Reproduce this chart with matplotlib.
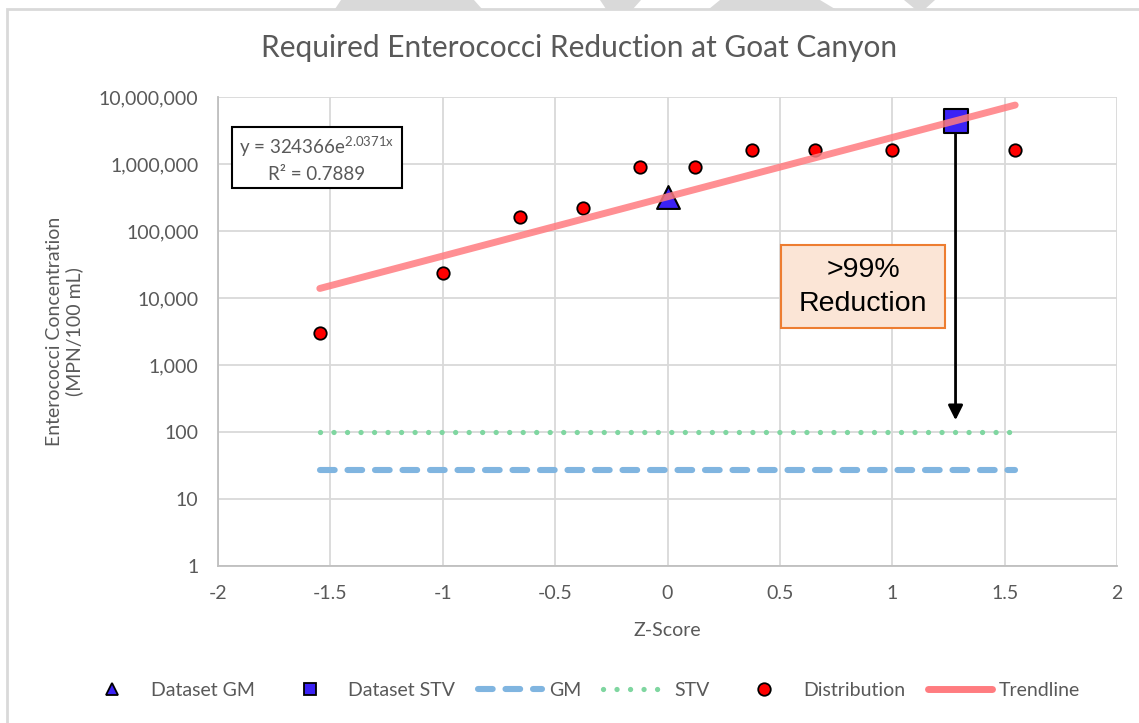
import numpy as np
import matplotlib
matplotlib.use("Agg")
import matplotlib.pyplot as plt
from matplotlib.lines import Line2D
from matplotlib.patches import Rectangle, Polygon
from matplotlib.ticker import FuncFormatter, FixedLocator, NullLocator

# data
z_scores = [-1.547, -1.000, -0.655, -0.375, -0.123, 0.123, 0.375, 0.655, 1.000, 1.547]
enterococci = [3000, 24000, 160000, 220000, 900000, 900000, 1600000, 1600000, 1600000, 1600000]
gm_z = 0.0
gm_value = 324366
stv_z = 1.2816
stv_value = 4400000
trend_a = 324366
trend_b = 2.0371
trend_r2 = 0.7889
gm_limit = 27
stv_limit = 100
limit_span = [-1.547, 1.547]
arrow_end = 150

W, H = 1139, 723
gray = "#595959"
fam = ["Lato", "DejaVu Sans"]
plt.rcParams["font.family"] = fam
fs = 14

fig = plt.figure(figsize=(W / 100, H / 100), dpi=100)


def px(x, y):
    return (x / W, 1 - y / H)


# chart frame and the grey shapes peeking in at the top
fig.patches.append(Rectangle(px(7, 740), (W + 20) / W, (740 - 9) / H, transform=fig.transFigure,
                             fill=False, ec="#d9d9d9", lw=2))
for shp in ([(341, 0), (474, 0), (482, 9), (335, 9)],
            [(600, 0), (641, 0), (633, 9), (606, 9)],
            [(720, 0), (820, 0), (835, 9), (709, 9)],
            [(904, 0), (935, 0), (925, 9), (915, 9)]):
    fig.patches.append(Polygon([px(*p) for p in shp], closed=True, transform=fig.transFigure,
                               fc="#d9d9d9", ec="none"))

ax = fig.add_axes([218 / W, 1 - 566 / H, (1117 - 218) / W, (566 - 97) / H])
ax.set_yscale("log")
ax.set_xlim(-2, 2)
ax.set_ylim(1, 1e7)
ax.set_xticks(np.arange(-2, 2.01, 0.5))
ax.xaxis.set_major_formatter(FuncFormatter(lambda v, p: f"{v:g}"))
ax.yaxis.set_major_locator(FixedLocator([10 ** k for k in range(8)]))
ax.yaxis.set_minor_locator(NullLocator())
ax.yaxis.set_major_formatter(FuncFormatter(lambda v, p: f"{v:,.0f}"))
ax.grid(True, color="#d9d9d9", lw=1.3)
ax.set_axisbelow(True)
for s in ["top", "right"]:
    ax.spines[s].set_visible(False)
for s in ["left", "bottom"]:
    ax.spines[s].set_color("#bfbfbf")
    ax.spines[s].set_linewidth(1.3)
ax.tick_params(length=0, labelsize=fs, labelcolor=gray)
ax.tick_params(axis="x", pad=14)
ax.tick_params(axis="y", pad=14)
ax.set_xlabel("Z-Score", fontsize=fs, color=gray, labelpad=14)
ax.set_ylabel("Enterococci Concentration\n(MPN/100 mL)", fontsize=fs, color=gray, labelpad=11)

# standards lines
ax.plot(limit_span, [stv_limit, stv_limit], color="#7fd6a0", lw=3.8,
        dashes=(0.01, 2.55), dash_capstyle="round", zorder=2)
ax.plot(limit_span, [gm_limit, gm_limit], color="#80b5e0", lw=4.4,
        dashes=(2.4, 2.1), dash_capstyle="round", zorder=2)

# arrow from STV down
ax.annotate("", xy=(stv_z, arrow_end), xytext=(stv_z, stv_value),
            arrowprops=dict(arrowstyle="-|>", color="black", lw=2, mutation_scale=22,
                            shrinkA=0, shrinkB=0), zorder=3)

ax.scatter(z_scores, enterococci, s=80, c="#ff0000", edgecolors="black", linewidths=1.3, zorder=4)
ax.scatter([gm_z], [gm_value], marker="^", s=270, c="#3b22f5", edgecolors="black", linewidths=1.5, zorder=4)
ax.scatter([stv_z], [stv_value], marker="s", s=290, c="#3b22f5", edgecolors="black", linewidths=1.5, zorder=4)

tz = np.linspace(limit_span[0], limit_span[1], 50)
ax.plot(tz, trend_a * np.exp(trend_b * tz), color="#ff7c80", lw=5, alpha=0.85,
        solid_capstyle="round", zorder=5)

fig.text(*px(579, 48), "Required Enterococci Reduction at Goat Canyon", fontsize=21.5,
         color=gray, ha="center", va="center")

# trendline equation box
fig.patches.append(Rectangle(px(232, 188), 170 / W, 61 / H, transform=fig.transFigure,
                             fc="white", ec="black", lw=1.5, zorder=6))
fig.text(*px(317, 147), r"y = " + f"{trend_a}" + r"e$^{\mathregular{" + f"{trend_b}" + r"x}}$",
         fontsize=13.5, color=gray, ha="center", va="center", zorder=7)
fig.text(*px(317, 175), f"R² = {trend_r2}", fontsize=13.5, color=gray, ha="center", va="center", zorder=7)

# reduction callout
fig.patches.append(Rectangle(px(781, 328), 164 / W, 83 / H, transform=fig.transFigure,
                             fc="#fbe5d6", ec="#ed7d31", lw=1.5, zorder=6))
fig.text(*px(863, 287), ">99%\nReduction", fontsize=20.5, family=["Liberation Sans", "DejaVu Sans"],
         color="black", ha="center", va="center", linespacing=1.4, zorder=7)

handles = [
    Line2D([], [], ls="none", marker="^", ms=9, mfc="#3b22f5", mec="black", mew=1.3),
    Line2D([], [], ls="none", marker="s", ms=9, mfc="#3b22f5", mec="black", mew=1.3),
    Line2D([], [], color="#80b5e0", lw=4.4, dashes=(2.4, 2.1), dash_capstyle="round"),
    Line2D([], [], color="#7fd6a0", lw=3.8, dashes=(0.01, 2.55), dash_capstyle="round"),
    Line2D([], [], ls="none", marker="o", ms=9, mfc="#ff0000", mec="black", mew=1.3),
    Line2D([], [], color="#ff7c80", lw=5, solid_capstyle="round"),
]
labels = ["Dataset GM", "Dataset STV", "GM", "STV", "Distribution", "Trendline"]
fig.legend(handles, labels, loc="center", bbox_to_anchor=(580 / W, 1 - 690 / H), ncol=6,
           frameon=False, fontsize=fs, labelcolor=gray, handlelength=3.3,
           handletextpad=0.35, columnspacing=1.15)

fig.savefig("out.png", dpi=100)
